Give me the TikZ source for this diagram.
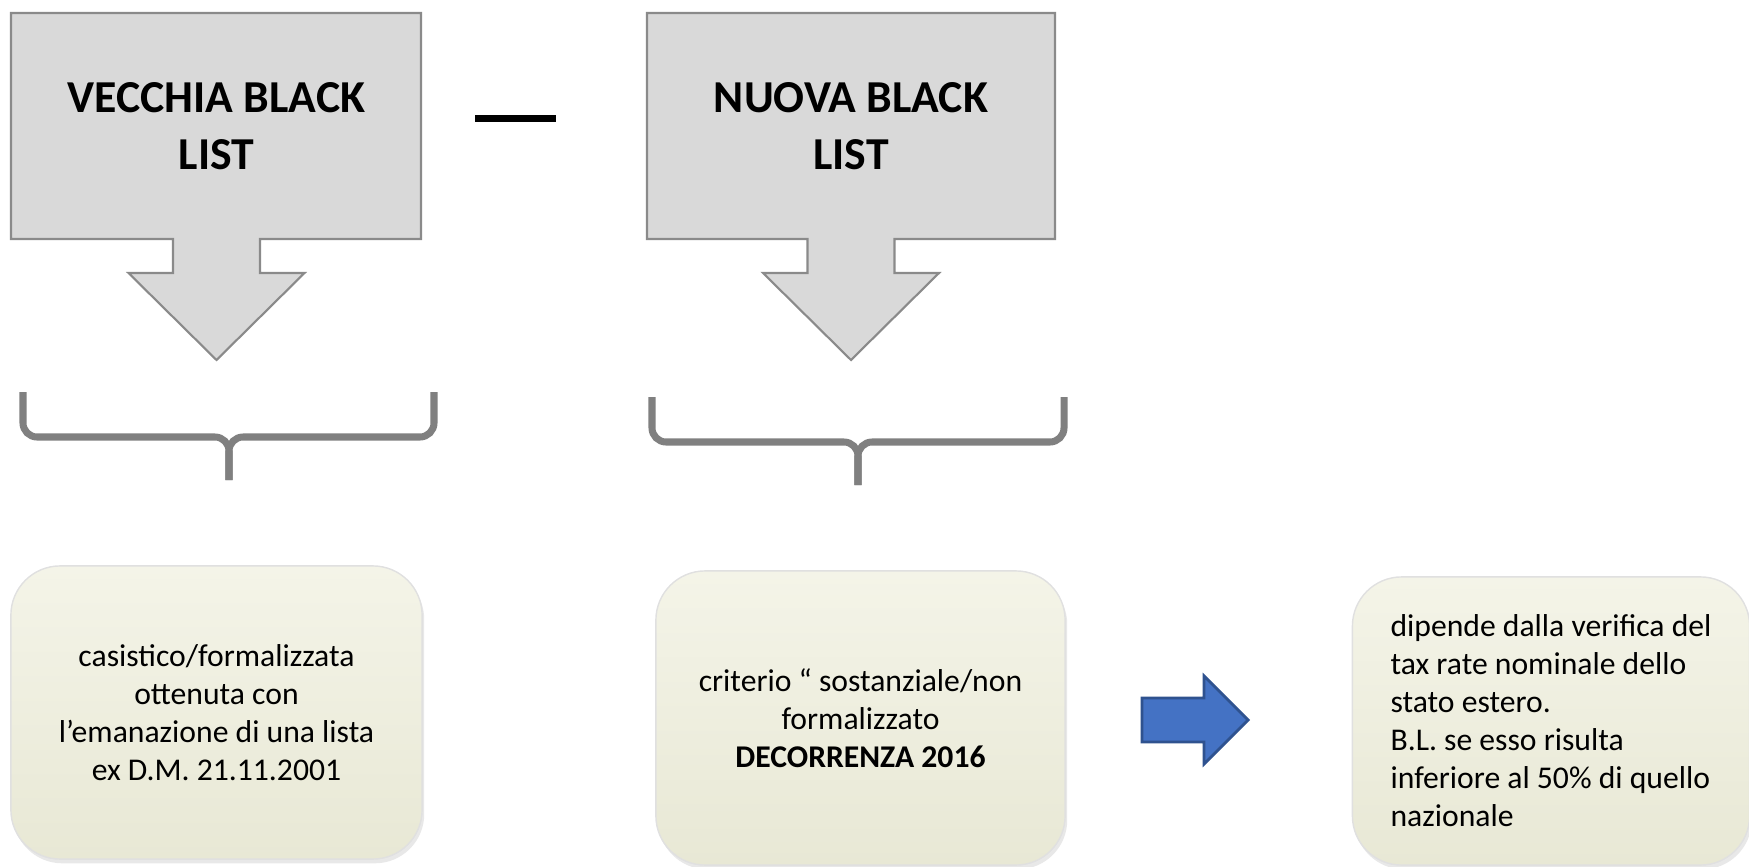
\documentclass[tikz,border=0pt]{standalone}
\usepackage{fontspec}
\setmainfont{Carlito}
\usepackage{xcolor}
\usetikzlibrary{shadows}
\definecolor{boxgray}{HTML}{D9D9D9}
\definecolor{linegray}{HTML}{8A8A8A}
\definecolor{bracegray}{HTML}{808080}
\definecolor{creamtop}{HTML}{F4F4E8}
\definecolor{creambot}{HTML}{E8E8D5}
\definecolor{arrowblue}{HTML}{4472C4}
\definecolor{arrowedge}{HTML}{2F528F}

\begin{document}
\begin{tikzpicture}[x=0.01cm, y=-0.01cm,
    callout/.style={fill=boxgray, draw=linegray, line width=0.6pt, line join=miter},
    titletext/.style={align=center, font=\fontsize{13}{16.2}\selectfont\bfseries},
    braceline/.style={draw=bracegray, line width=2pt, rounded corners=4pt},
    notebox/.style={rounded corners=14pt, top color=creamtop, bottom color=creambot,
        draw=black!12, line width=0.4pt, font=\fontsize{9}{10.8}\selectfont,
        drop shadow={opacity=0.18, shadow xshift=0.6pt, shadow yshift=-1.2pt}},
    bluearrow/.style={fill=arrowblue, draw=arrowedge, line width=0.8pt}]
\useasboundingbox (0,0) rectangle (1749,867);

% Draw the two grey boxes with their down arrows
\foreach \l/\r/\c in {11/421/216.5, 647/1055/851} {
    \draw[callout] (\l,13) -- (\r,13) -- (\r,239) -- (\c+43.5,239) -- (\c+43.5,273)
        -- (\c+88,273) -- (\c,360) -- (\c-88,273) -- (\c-43.5,273) -- (\c-43.5,239)
        -- (\l,239) -- cycle;
}
\node[titletext] (vecchia) at (216.5,126) {VECCHIA BLACK\\LIST};
\node[titletext] (nuova) at (851,126) {NUOVA BLACK\\LIST};

% The dash between them
\draw[line width=2pt] (475,118.5) -- (556,118.5);

% Braces under the arrows
\foreach \l/\r/\m/\t in {23/434/229/392, 652/1064/858/397} {
    \draw[braceline] (\l,\t) -- (\l,\t+45) -- (\m,\t+45) -- (\m,\t+88);
    \draw[braceline] (\r,\t) -- (\r,\t+45) -- (\m,\t+45) -- (\m,\t+88);
}

% Bottom boxes
\node[notebox, minimum width=4.11cm, minimum height=2.93cm, align=center] (formale) at (216.5,712.5)
    {casistico/formalizzata\\ottenuta con\\l’emanazione di una lista\\ex D.M. 21.11.2001};
\node[notebox, minimum width=4.09cm, minimum height=2.94cm, align=center] (sostanziale) at (860.5,718)
    {criterio “ sostanziale/non\\formalizzato\\\textbf{DECORRENZA 2016}};
\node[notebox, minimum width=3.97cm, minimum height=2.88cm, align=left] (taxrate) at (1551,721)
    {dipende dalla verifica del\\tax rate nominale dello\\stato estero.\\B.L. se esso risulta\\inferiore al 50\% di quello\\nazionale};

% Blue arrow towards the last box
\draw[bluearrow] (1142,698) -- (1204,698) -- (1204,676) -- (1248,720) -- (1204,764)
    -- (1204,742) -- (1142,742) -- cycle;

\end{tikzpicture}
\end{document}
